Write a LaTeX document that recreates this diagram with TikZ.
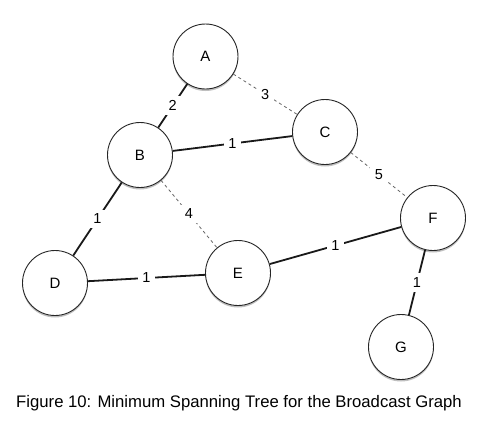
\documentclass[tikz,border=0pt]{standalone}
\usepackage{fontspec}
\setmainfont{Liberation Sans}
\usetikzlibrary{shadows}
\begin{document}
\begin{tikzpicture}[x=1pt,y=-1pt,
  vtx/.style={circle,draw=black!85,line width=0.9pt,fill=white,minimum size=65pt,inner sep=0pt,font=\fontsize{15}{15}\selectfont,
    drop shadow={shadow xshift=0pt,shadow yshift=-2pt,opacity=0.25,fill=black}},
  tree/.style={line width=1.8pt,black!90},
  nontree/.style={line width=0.8pt,black!60,dash pattern=on 3pt off 3pt},
  wt/.style={fill=white,text=black,inner xsep=4.5pt,inner ysep=4.5pt,font=\fontsize{14.5}{14.5}\selectfont}]
\useasboundingbox (0,0) rectangle (483,424);
\fill[white] (0,0) rectangle (483,424);
\node[vtx] (A) at (205.5,56.5) {A};
\node[vtx] (B) at (140,155) {B};
\node[vtx] (C) at (325,132) {C};
\node[vtx] (D) at (55,283) {D};
\node[vtx] (E) at (238,273) {E};
\node[vtx] (F) at (433,218) {F};
\node[vtx] (G) at (401,347) {G};
\draw[tree] (A) -- node[wt]{2} (B);
\draw[nontree] (A) -- node[wt]{3} (C);
\draw[tree] (B) -- node[wt]{1} (C);
\draw[nontree] (B) -- node[wt]{4} (E);
\draw[tree] (B) -- node[wt]{1} (D);
\draw[tree] (D) -- node[wt]{1} (E);
\draw[tree] (E) -- node[wt]{1} (F);
\draw[nontree] (C) -- node[wt]{5} (F);
\draw[tree] (F) -- node[wt]{1} (G);
\node[font=\fontsize{16.7}{16.7}\selectfont] (cap) at (239,403) {Figure 10: Minimum Spanning Tree for the Broadcast Graph};
\end{tikzpicture}
\end{document}
